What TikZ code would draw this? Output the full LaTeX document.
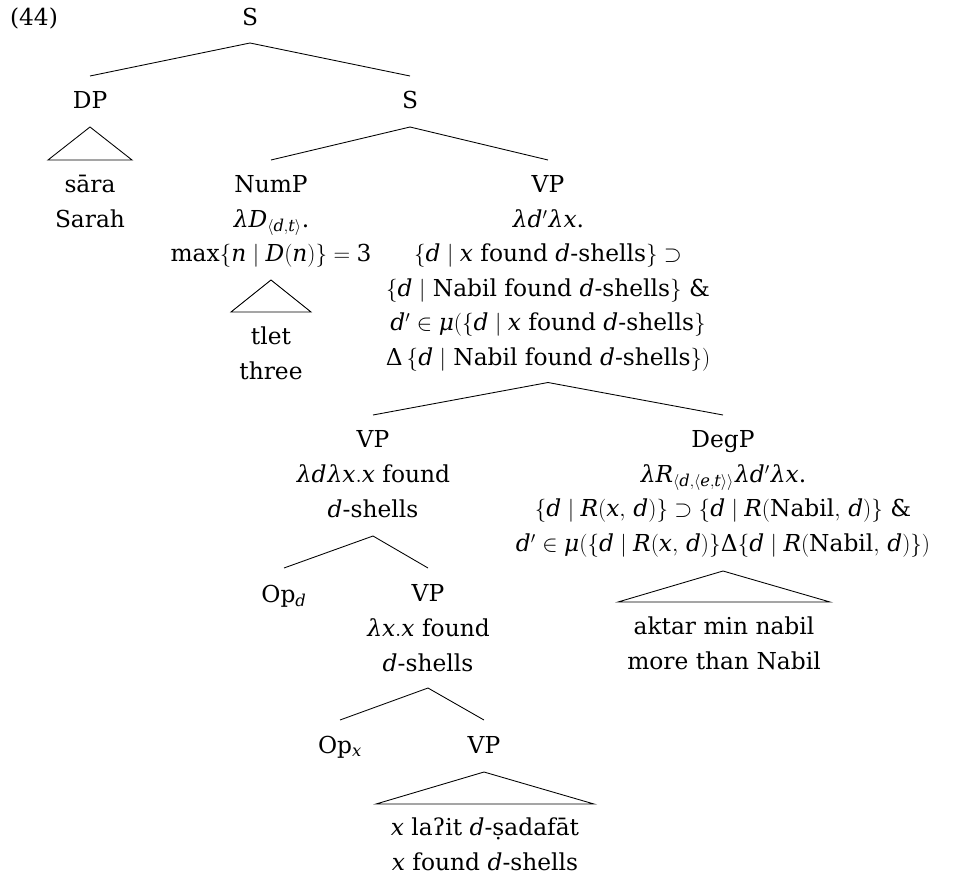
\documentclass[tikz,border=0pt]{standalone}
\usepackage{amsmath}
\usepackage{mathspec}
\setmainfont{DejaVu Serif}
\setmathsfont(Digits,Latin,Greek){DejaVu Serif}
\usetikzlibrary{calc}
\begin{document}
\begin{tikzpicture}[x=0.75pt,y=-0.75pt,
  every node/.style={inner sep=0pt, font=\fontsize{17.5}{25.9}\selectfont, align=center, anchor=base},
  edge/.style={line width=0.65pt}]
\useasboundingbox (0,0) rectangle (959,877);
% labels (anchor base = baseline of the last line)
\node (ex) at (34,26) {(44)};
\node (S1) at (250,26) {S};
\node (DP) at (90,109) {DP};
\node (S2) at (410,109) {S};
\node (DPl) at (90,227.5) {sāra\\Sarah};
\node (NumP) at (271,262) {NumP\\$\lambda D_{\langle d,t\rangle}$.\\max$\{n\mid D(n)\}=3$};
\node (NumPl) at (271,379) {tlet\\three};
\node (VP1) at (548,365.5) {VP\\$\lambda d'\lambda x$.\\$\{d\mid x$ found $d$-shells$\}\supset$\\$\{d\mid$ Nabil found $d$-shells$\}$ \&\\$d'\in\mu(\{d\mid x$ found $d$-shells$\}$\\$\Delta\,\{d\mid$ Nabil found $d$-shells$\})$};
\node (VP2) at (373,517) {VP\\$\lambda d\lambda x.x$ found\\$d$-shells};
\node (DegP) at (723,551.5) {DegP\\$\lambda R_{\langle d,\langle e,t\rangle\rangle}\lambda d'\lambda x$.\\$\{d\mid R(x,\,d)\}\supset\{d\mid R(\mbox{Nabil},\,d)\}$ \&\\$d'\in\mu(\{d\mid R(x,\,d)\}\Delta\{d\mid R(\mbox{Nabil},\,d)\})$};
\node (DegPl) at (724,669.5) {aktar min nabil\\more than Nabil};
\node (Opd) at (284,602) {Op$_d$};
\node (VP3) at (428,671) {VP\\$\lambda x.x$ found\\$d$-shells};
\node (Opx) at (340,753) {Op$_x$};
\node (VP4) at (484,753) {VP};
\node (VP4l) at (485,870.5) {$x$ laʔit $d$-ṣadafāt\\$x$ found $d$-shells};
% branches
\draw[edge] ($(S1.base)+(0,17)$) -- ($(DP.base)+(0,-33)$);
\draw[edge] ($(S1.base)+(0,17)$) -- ($(S2.base)+(0,-33)$);
\draw[edge] ($(S2.base)+(0,18)$) -- ($(NumP.base)+(0,-102)$);
\draw[edge] ($(S2.base)+(0,18)$) -- ($(VP1.base)+(0,-205.5)$);
\draw[edge] ($(VP1.base)+(0,17)$) -- ($(VP2.base)+(0,-102)$);
\draw[edge] ($(VP1.base)+(0,17)$) -- ($(DegP.base)+(0,-136.5)$);
\draw[edge] ($(VP2.base)+(0,19)$) -- ($(Opd.base)+(0,-34)$);
\draw[edge] ($(VP2.base)+(0,19)$) -- ($(VP3.base)+(0,-103)$);
\draw[edge] ($(VP3.base)+(0,17)$) -- ($(Opx.base)+(0,-33)$);
\draw[edge] ($(VP3.base)+(0,17)$) -- ($(VP4.base)+(0,-33)$);
% triangles
\draw[edge] ($(DP.base)+(0,18)$) -- ($(DPl.base)+(-42,-67.5)$) -- ($(DPl.base)+(42,-67.5)$) -- cycle;
\draw[edge] ($(NumP.base)+(0,18)$) -- ($(NumPl.base)+(-40,-67)$) -- ($(NumPl.base)+(40,-67)$) -- cycle;
\draw[edge] ($(DegP.base)+(0,19.5)$) -- ($(DegPl.base)+(-106,-67.5)$) -- ($(DegPl.base)+(106,-67.5)$) -- cycle;
\draw[edge] ($(VP4.base)+(0,19)$) -- ($(VP4l.base)+(-109,-66.5)$) -- ($(VP4l.base)+(109,-66.5)$) -- cycle;
\end{tikzpicture}
\end{document}
